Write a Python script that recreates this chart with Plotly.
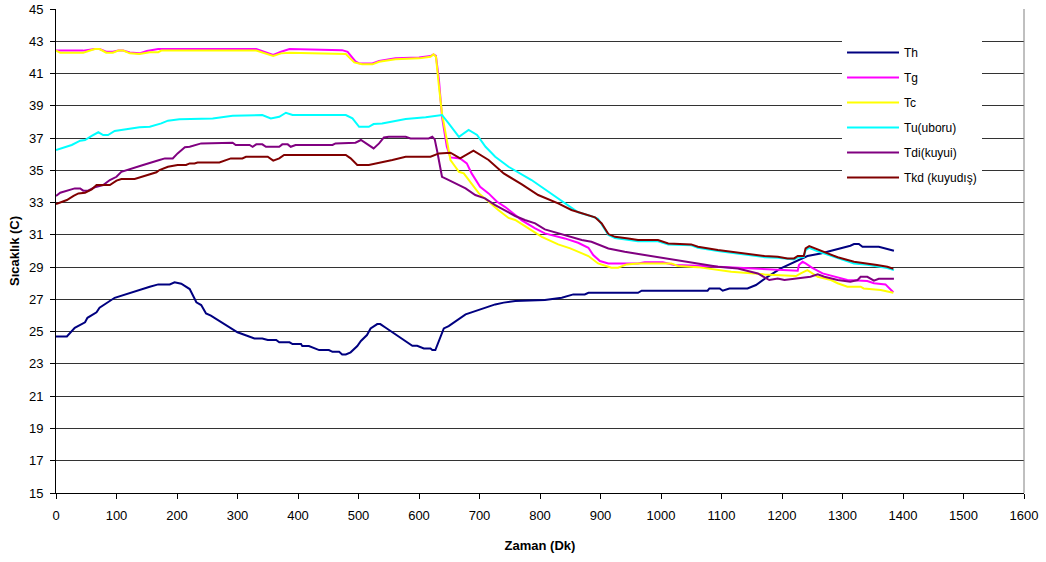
import plotly.graph_objects as go

th_x = [0, 18, 31, 48, 52, 67, 72, 97, 155, 169, 188, 196, 207, 221, 232, 240, 248, 256, 300, 328, 341, 350, 364, 369, 386, 391, 405, 407, 418, 435, 451, 457, 468, 473, 479, 487, 498, 504, 514, 520, 531, 536, 545, 589, 597, 608, 619, 622, 627, 632, 641, 649, 677, 726, 740, 759, 808, 836, 855, 874, 880, 962, 968, 1077, 1080, 1097, 1102, 1113, 1143, 1157, 1176, 1198, 1215, 1242, 1264, 1292, 1313, 1319, 1327, 1333, 1360, 1385]
th_y = [24.7, 24.7, 25.24, 25.58, 25.86, 26.2, 26.48, 27.1, 27.78, 27.93, 27.93, 28.06, 27.97, 27.64, 26.82, 26.65, 26.13, 25.99, 24.96, 24.58, 24.58, 24.48, 24.48, 24.34, 24.34, 24.23, 24.23, 24.11, 24.11, 23.86, 23.86, 23.75, 23.75, 23.59, 23.59, 23.72, 24.11, 24.42, 24.79, 25.2, 25.47, 25.47, 25.24, 24.12, 24.12, 23.96, 23.96, 23.86, 23.86, 24.37, 25.2, 25.35, 26.07, 26.69, 26.8, 26.9, 26.96, 27.1, 27.31, 27.31, 27.41, 27.41, 27.54, 27.54, 27.68, 27.68, 27.54, 27.68, 27.68, 27.89, 28.4, 28.92, 29.23, 29.69, 29.85, 30.12, 30.33, 30.43, 30.43, 30.26, 30.26, 30.02]

tg_x = [0, 7, 45, 64, 72, 83, 94, 103, 111, 122, 138, 150, 169, 331, 347, 359, 372, 386, 473, 482, 495, 501, 523, 534, 561, 600, 619, 624, 628, 633, 638, 646, 652, 668, 679, 687, 701, 715, 729, 742, 756, 770, 792, 808, 841, 863, 880, 888, 899, 913, 962, 973, 1003, 1022, 1061, 1190, 1226, 1228, 1234, 1239, 1250, 1267, 1292, 1308, 1341, 1352, 1371, 1377, 1384]
tg_y = [42.42, 42.42, 42.42, 42.52, 42.52, 42.35, 42.35, 42.42, 42.42, 42.3, 42.25, 42.4, 42.52, 42.52, 42.3, 42.15, 42.35, 42.52, 42.45, 42.35, 41.75, 41.63, 41.62, 41.78, 41.95, 42.0, 42.08, 42.19, 42.1, 40.6, 38.32, 36.46, 35.8, 35.74, 35.43, 34.81, 33.98, 33.57, 33.05, 32.74, 32.33, 31.9, 31.4, 31.09, 30.78, 30.51, 30.2, 29.75, 29.38, 29.23, 29.23, 29.3, 29.3, 29.13, 29.08, 28.82, 28.78, 29.13, 29.33, 29.23, 28.96, 28.61, 28.34, 28.2, 28.14, 28.0, 27.93, 27.68, 27.44]

tc_x = [0, 7, 45, 64, 72, 83, 94, 103, 111, 122, 138, 155, 169, 174, 331, 347, 359, 372, 386, 479, 493, 506, 523, 534, 561, 600, 619, 624, 628, 633, 638, 644, 649, 652, 660, 666, 674, 682, 699, 712, 731, 748, 759, 781, 803, 830, 850, 880, 896, 918, 929, 943, 962, 1017, 1028, 1061, 1116, 1171, 1223, 1231, 1242, 1259, 1281, 1292, 1308, 1330, 1335, 1363, 1384]
tc_y = [42.42, 42.29, 42.29, 42.52, 42.52, 42.29, 42.29, 42.42, 42.42, 42.25, 42.21, 42.32, 42.32, 42.42, 42.42, 42.25, 42.09, 42.25, 42.29, 42.21, 41.69, 41.57, 41.57, 41.73, 41.88, 41.94, 42.04, 42.19, 42.04, 40.18, 38.53, 37.29, 36.26, 35.64, 35.22, 34.91, 34.81, 34.4, 33.57, 33.16, 32.54, 32.05, 31.92, 31.4, 30.88, 30.41, 30.16, 29.69, 29.23, 28.96, 28.96, 29.17, 29.23, 29.23, 29.07, 29.0, 28.71, 28.55, 28.45, 28.61, 28.82, 28.4, 28.2, 28.0, 27.79, 27.79, 27.68, 27.58, 27.41]

tu_x = [0, 26, 40, 48, 59, 70, 78, 86, 97, 116, 138, 155, 174, 185, 204, 259, 292, 341, 355, 369, 380, 391, 479, 490, 501, 517, 525, 539, 556, 578, 611, 633, 638, 649, 666, 682, 696, 710, 726, 748, 786, 814, 841, 863, 885, 896, 902, 913, 924, 946, 962, 995, 1012, 1050, 1061, 1094, 1116, 1149, 1171, 1193, 1220, 1226, 1236, 1239, 1245, 1259, 1292, 1319, 1341, 1357, 1374, 1385]
tu_y = [36.26, 36.57, 36.84, 36.88, 37.13, 37.36, 37.19, 37.19, 37.44, 37.56, 37.67, 37.7, 37.91, 38.08, 38.16, 38.22, 38.38, 38.43, 38.22, 38.32, 38.57, 38.43, 38.43, 38.22, 37.7, 37.7, 37.87, 37.91, 38.01, 38.18, 38.29, 38.43, 38.43, 37.91, 37.08, 37.5, 37.19, 36.46, 35.84, 35.22, 34.4, 33.67, 32.95, 32.4, 32.15, 32.0, 31.65, 31.0, 30.8, 30.7, 30.6, 30.6, 30.4, 30.35, 30.2, 30.0, 29.9, 29.75, 29.62, 29.58, 29.48, 29.6, 29.62, 30.05, 30.2, 29.98, 29.55, 29.23, 29.15, 29.05, 28.95, 28.82]

tdi_x = [0, 7, 31, 40, 45, 53, 64, 78, 89, 100, 108, 122, 144, 171, 180, 193, 201, 213, 221, 240, 292, 297, 320, 325, 331, 341, 347, 369, 374, 383, 388, 396, 457, 462, 495, 504, 512, 525, 534, 542, 550, 578, 586, 616, 622, 626, 630, 634, 638, 646, 666, 677, 693, 709, 726, 742, 759, 775, 792, 808, 830, 852, 869, 885, 913, 940, 973, 1000, 1028, 1061, 1094, 1127, 1160, 1179, 1193, 1204, 1247, 1259, 1270, 1292, 1313, 1325, 1330, 1341, 1352, 1360, 1385]
tdi_y = [33.41, 33.61, 33.88, 33.88, 33.74, 33.74, 33.95, 34.09, 34.4, 34.6, 34.91, 35.06, 35.33, 35.64, 35.74, 35.74, 36.05, 36.43, 36.46, 36.67, 36.71, 36.57, 36.57, 36.46, 36.61, 36.61, 36.46, 36.46, 36.61, 36.61, 36.46, 36.57, 36.57, 36.67, 36.71, 36.88, 36.67, 36.36, 36.67, 37.04, 37.08, 37.08, 36.98, 36.98, 37.08, 36.92, 36.2, 35.43, 34.6, 34.46, 34.09, 33.88, 33.47, 33.26, 32.85, 32.54, 32.17, 31.92, 31.71, 31.34, 31.09, 30.88, 30.68, 30.57, 30.16, 29.95, 29.75, 29.58, 29.44, 29.25, 29.02, 28.92, 28.61, 28.2, 28.3, 28.2, 28.4, 28.55, 28.4, 28.2, 28.09, 28.2, 28.4, 28.4, 28.16, 28.28, 28.28]

tkd_x = [0, 7, 18, 29, 37, 48, 59, 67, 89, 100, 108, 130, 147, 166, 171, 185, 201, 215, 221, 229, 234, 270, 289, 308, 314, 350, 359, 369, 377, 479, 487, 498, 517, 531, 556, 578, 619, 633, 652, 668, 690, 715, 740, 770, 797, 830, 852, 891, 902, 913, 924, 946, 962, 995, 1012, 1050, 1061, 1094, 1116, 1149, 1171, 1193, 1209, 1220, 1226, 1236, 1239, 1245, 1259, 1292, 1319, 1341, 1357, 1374, 1384]
tkd_y = [32.91, 32.99, 33.16, 33.41, 33.57, 33.61, 33.82, 34.09, 34.09, 34.36, 34.46, 34.46, 34.67, 34.88, 35.02, 35.22, 35.33, 35.33, 35.43, 35.43, 35.49, 35.49, 35.74, 35.74, 35.84, 35.84, 35.6, 35.74, 35.95, 35.95, 35.74, 35.33, 35.33, 35.43, 35.64, 35.84, 35.84, 36.05, 36.09, 35.74, 36.22, 35.64, 34.81, 34.13, 33.47, 32.95, 32.54, 32.09, 31.71, 31.05, 30.88, 30.78, 30.68, 30.68, 30.47, 30.41, 30.26, 30.06, 29.96, 29.81, 29.69, 29.65, 29.54, 29.54, 29.69, 29.69, 30.16, 30.3, 30.1, 29.61, 29.33, 29.23, 29.13, 29.02, 28.9]

series = [
    ("Th", th_x, th_y, "#000080"),
    ("Tg", tg_x, tg_y, "#FF00FF"),
    ("Tc", tc_x, tc_y, "#FFFF00"),
    ("Tu(uboru)", tu_x, tu_y, "#00FFFF"),
    ("Tdi(kuyui)", tdi_x, tdi_y, "#800080"),
    ("Tkd (kuyudış)", tkd_x, tkd_y, "#800000"),
]

y_ticks = list(range(15, 46, 2))
x_ticks = list(range(0, 1601, 100))

fig = go.Figure()
for i, (name, xs, ys, col) in enumerate(series):
    fig.add_trace(go.Scatter(x=xs, y=ys, name=name, mode="lines",
                             line=dict(color=col, width=2),
                             legendgroup=f"g{i}"))

font_family = "Liberation Sans, Arial, sans-serif"
fig.update_layout(
    width=1046, height=562,
    margin=dict(l=56, r=22, t=9, b=69),
    paper_bgcolor="white", plot_bgcolor="white",
    font=dict(family=font_family, size=13, color="black"),
    showlegend=True,
    legend=dict(x=0.812, y=0.94, xanchor="left", yanchor="top",
                bgcolor="white", borderwidth=0,
                font=dict(size=12, family=font_family),
                traceorder="grouped", tracegroupgap=6, itemwidth=52),
    xaxis=dict(range=[0, 1600], tickvals=x_ticks, ticks="outside", ticklen=5,
               tickcolor="black", showline=True, linecolor="black", linewidth=1,
               showgrid=False, zeroline=False, ticklabelstandoff=5, automargin=False,
               title=dict(text="<b>Zaman (Dk)</b>", font=dict(size=13), standoff=19)),
    yaxis=dict(range=[15, 45], tickvals=y_ticks, ticks="outside", ticklen=5,
               tickcolor="black", showline=True, linecolor="black", linewidth=1,
               showgrid=True, gridcolor="#333333", gridwidth=1, zeroline=False,
               ticklabelstandoff=4, automargin=False,
               title=dict(text="<b>Sıcaklık (C)</b>", font=dict(size=13), standoff=6)),
    shapes=[dict(type="line", xref="paper", yref="paper", x0=1, x1=1, y0=0, y1=1,
                 line=dict(color="#808080", width=1))],
)

fig.write_html("out.html", config={"displayModeBar": False},
               post_script="document.body.style.margin='0';")
